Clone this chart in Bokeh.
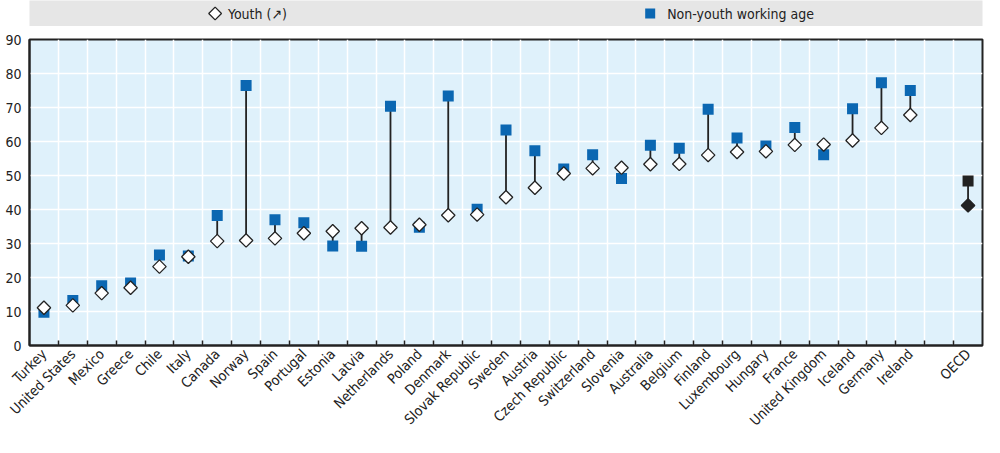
import math
from bokeh.plotting import figure
from bokeh.models import Range1d, FixedTicker
from bokeh.core.properties import value
from bokeh.layouts import column
from bokeh.embed import file_html
from bokeh.resources import INLINE

countries = ["Turkey", "United States", "Mexico", "Greece", "Chile", "Italy", "Canada",
             "Norway", "Spain", "Portugal", "Estonia", "Latvia", "Netherlands", "Poland",
             "Denmark", "Slovak Republic", "Sweden", "Austria", "Czech Republic",
             "Switzerland", "Slovenia", "Australia", "Belgium", "Finland", "Luxembourg",
             "Hungary", "France", "United Kingdom", "Iceland", "Germany", "Ireland"]
youth = [11.1, 11.8, 15.4, 17.0, 23.2, 26.1, 30.7, 30.9, 31.5, 33.0, 33.6, 34.5, 34.7,
         35.5, 38.3, 38.5, 43.6, 46.4, 50.6, 52.1, 52.3, 53.3, 53.4, 56.0, 56.9, 57.1,
         59.0, 59.1, 60.3, 64.0, 67.8]
non_youth = [9.8, 13.2, 17.6, 18.4, 26.6, 26.3, 38.2, 76.5, 37.0, 36.1, 29.3, 29.2, 70.4,
             34.8, 73.4, 40.1, 63.4, 57.3, 51.9, 56.1, 49.1, 58.9, 58.0, 69.5, 61.0, 58.7,
             64.1, 56.1, 69.6, 77.3, 75.0]
oecd_label = "OECD"
oecd_youth = [41.2]
oecd_non_youth = [48.4]
y_ticks = [0, 10, 20, 30, 40, 50, 60, 70, 80, 90]
legend_labels = ["Youth (\u2197)", "Non-youth working age"]

FONT = "'Liberation Sans Narrow', 'Arial Narrow', 'DejaVu Sans Condensed', sans-serif"
BLUE = "#0b67b2"
DARK = "#222222"
BG = "#dff1fb"
BAND = "#e6e6e6"
W = 984
LEFT = 29
BAND_H = 26

n = len(countries)
xs = list(range(n))
oecd_x = n + 1
boundaries = [i + 0.5 for i in range(0, n + 1)]

# ---------- legend band (key drawn in pixel units of the band) ----------
band_w = W - LEFT
band = figure(width=W, height=BAND_H, output_backend="svg", toolbar_location=None,
              x_range=Range1d(0, band_w), y_range=Range1d(0, BAND_H),
              x_axis_location=None, y_axis_location=None,
              min_border_left=LEFT, min_border_right=0, min_border_top=0, min_border_bottom=0,
              background_fill_color=BAND, border_fill_color="white", outline_line_color=None)
band.grid.visible = False
key_marker_x = [186, 622]
key_text_x = [199, 639]
key_y = BAND_H / 2
band.scatter(x=[key_marker_x[0]], y=[key_y], marker="square", angle=math.pi / 4, size=9,
             fill_color="white", line_color=DARK, line_width=1.3)
band.scatter(x=[key_marker_x[1]], y=[key_y], marker="square", size=10, fill_color=BLUE,
             line_color=None)
band.text(x=key_text_x, y=[key_y, key_y], text=legend_labels, text_align="left",
          text_baseline="middle", text_font=value(FONT), text_font_size="14px",
          text_color=DARK)

# ---------- main chart ----------
p = figure(width=W, height=437 - BAND_H, output_backend="svg", toolbar_location=None,
           x_range=Range1d(-0.5, n + 1.5), y_range=Range1d(0, 90),
           min_border_left=LEFT, min_border_right=2, min_border_top=13, min_border_bottom=92,
           background_fill_color=BG, border_fill_color="white",
           outline_line_color=DARK, outline_line_width=2)

p.segment(x0=xs, y0=youth, x1=xs, y1=non_youth, line_color=DARK, line_width=1.8)
p.segment(x0=[oecd_x], y0=oecd_youth, x1=[oecd_x], y1=oecd_non_youth,
          line_color=DARK, line_width=1.8)
p.scatter(x=xs, y=non_youth, marker="square", size=11, fill_color=BLUE, line_color=None)
p.scatter(x=[oecd_x], y=oecd_non_youth, marker="square", size=11, fill_color=DARK,
          line_color=None)
p.scatter(x=xs, y=youth, marker="square", angle=math.pi / 4, size=9.5,
          fill_color="white", line_color=DARK, line_width=1.3)
p.scatter(x=[oecd_x], y=oecd_youth, marker="square", angle=math.pi / 4, size=9.5,
          fill_color=DARK, line_color=DARK, line_width=1.3)

overrides = {i: c for i, c in enumerate(countries)}
overrides[oecd_x] = oecd_label
xa = p.xaxis[0]
xa.ticker = FixedTicker(ticks=xs + [oecd_x], minor_ticks=boundaries)
xa.major_label_overrides = overrides
xa.major_label_orientation = math.pi / 4
xa.major_tick_in = 0
xa.major_tick_out = 0
xa.minor_tick_in = 5
xa.minor_tick_out = 0
xa.minor_tick_line_color = DARK
xa.minor_tick_line_width = 1.5
xa.axis_line_color = DARK
xa.axis_line_width = 2
xa.major_label_standoff = 6
xa.major_label_text_font = FONT
xa.major_label_text_font_size = "14px"
xa.major_label_text_color = DARK

ya = p.yaxis[0]
ya.ticker = FixedTicker(ticks=y_ticks)
ya.major_tick_in = 0
ya.major_tick_out = 0
ya.minor_tick_line_color = None
ya.axis_line_color = DARK
ya.axis_line_width = 2
ya.major_label_standoff = 8
ya.major_label_text_font = FONT
ya.major_label_text_font_size = "14px"
ya.major_label_text_color = DARK

p.xgrid.ticker = FixedTicker(ticks=boundaries)
p.xgrid.grid_line_color = "white"
p.xgrid.grid_line_width = 1.5
p.ygrid.grid_line_color = "white"
p.ygrid.grid_line_width = 1.5

layout = column(band, p, spacing=0)
open("out.html", "w").write(file_html(layout, INLINE))
